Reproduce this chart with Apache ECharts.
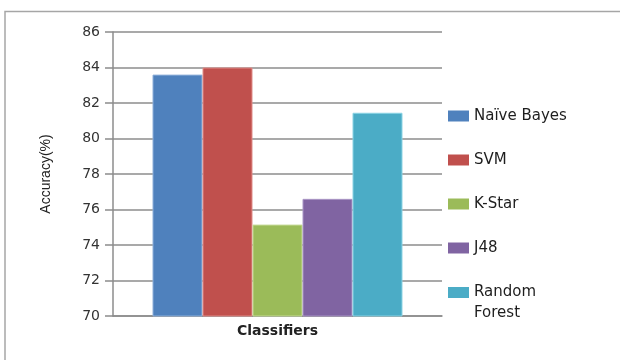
<!DOCTYPE html>
<html>
<head>
<meta charset="utf-8">
<script src="https://cdn.jsdelivr.net/npm/echarts@6/dist/echarts.min.js"></script>
<style>html,body{margin:0;padding:0;background:#fff}#c{width:620px;height:360px}</style>
</head>
<body>
<div id="c"></div>
<script>
var categories = ['Classifiers'];
var seriesNames = ['Naïve Bayes', 'SVM', 'K-Star', 'J48', 'Random Forest'];
var naiveBayes = [83.6];
var svm = [84.0];
var kStar = [75.15];
var j48 = [76.6];
var randomForest = [81.45];
var yTicks = [70, 72, 74, 76, 78, 80, 82, 84, 86];

var seriesValues = [naiveBayes, svm, kStar, j48, randomForest];
var colors = ['#4F81BD', '#C0504D', '#9BBB59', '#8064A2', '#4BACC6'];
var borders = ['#8FB0DA', '#E08C89', '#C4DA94', '#A995C6', '#8BD3E4'];

var chart = echarts.init(document.getElementById('c'), null, {renderer: 'canvas'});
var font = 'DejaVu Sans';
var legendText = {fontFamily: font, fontSize: 15, color: '#1e1e1e', lineHeight: 21};
var legendBase = {
  orient: 'vertical', left: 448, padding: 0,
  itemWidth: 21, itemHeight: 11, itemGap: 23,
  icon: 'rect',
  itemStyle: {borderWidth: 0},
  textStyle: legendText,
  formatter: function (n) { return n === 'Random Forest' ? ' \nRandom\nForest' : n; }
};
chart.setOption({
  animation: false,
  backgroundColor: '#fff',
  graphic: [{
    type: 'rect', z: -1,
    shape: {x: 5, y: 11.5, width: 700, height: 400},
    style: {fill: 'none', stroke: '#a6a6a6', lineWidth: 1.5}
  }],
  grid: {left: 113, right: 178, top: 32, bottom: 44},
  legend: [
    Object.assign({}, legendBase, {top: 105.5, data: seriesNames.slice(0, 4)}),
    Object.assign({}, legendBase, {top: 261, data: [seriesNames[4]]})
  ],
  xAxis: {
    type: 'category', data: categories,
    axisLine: {lineStyle: {color: '#8c8c8c', width: 1.5}},
    axisTick: {show: false},
    axisLabel: {margin: 8, fontFamily: font, fontSize: 14, fontWeight: 'bold', color: '#222'}
  },
  yAxis: {
    type: 'value', min: 70, max: 86, interval: 2,
    name: 'Accuracy(%)', nameLocation: 'middle', nameGap: 60, nameRotate: 90,
    nameTextStyle: {fontFamily: 'Liberation Sans', fontSize: 14, color: '#222'},
    axisLine: {show: true, lineStyle: {color: '#8c8c8c', width: 1.5}},
    axisTick: {show: true, length: 8, lineStyle: {color: '#8c8c8c', width: 1.5}},
    splitLine: {lineStyle: {color: '#8c8c8c', width: 1.5}},
    axisLabel: {margin: 13, fontFamily: font, fontSize: 14, color: '#333',
      formatter: function (v) { return yTicks.indexOf(v) >= 0 ? String(v) : ''; }}
  },
  series: seriesNames.map(function (n, i) {
    return {
      name: n, type: 'bar', data: seriesValues[i],
      barWidth: 50, barGap: '0%',
      itemStyle: {color: colors[i], borderColor: borders[i], borderWidth: 1}
    };
  })
});
</script>
</body>
</html>
